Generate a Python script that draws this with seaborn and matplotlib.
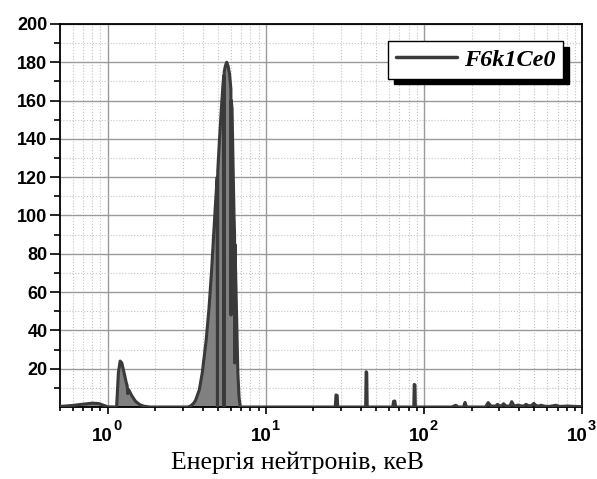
import numpy as np
import pandas as pd
import matplotlib
matplotlib.use('Agg')
import matplotlib.pyplot as plt
import seaborn as sns
from matplotlib.ticker import FixedLocator, NullFormatter

# spectrum pieces (energy in keV, flux)
low_e = [0.5, 0.6, 0.7, 0.8, 0.88, 0.95, 1.0, 1.14]
low_f = [0.3, 0.8, 1.5, 2.0, 1.8, 0.8, 0.1, 0.0]

peak1_e = [1.15, 1.17, 1.2, 1.23, 1.27, 1.31, 1.33, 1.34, 1.36, 1.42, 1.5, 1.6, 1.7, 1.85]
peak1_f = [6, 18, 24, 23, 18, 13, 11, 7, 9, 6, 3, 1.2, 0.4, 0.0]

peak2_e = [3.2, 3.35, 3.5, 3.6, 3.8, 3.97, 4.2, 4.38, 4.55, 4.66, 4.8, 4.93, 4.95, 4.97,
           5.1, 5.25, 5.35, 5.42, 5.44, 5.46, 5.55, 5.66, 5.78, 5.9, 6.02, 6.03, 6.05,
           6.12, 6.2, 6.3, 6.35, 6.36, 6.38, 6.45, 6.55, 6.66, 6.78, 6.9]
peak2_f = [0, 0.5, 2, 3.5, 9, 18, 35, 52, 72, 87, 105, 120, 0, 123,
           140, 157, 167, 173, 0, 175, 178, 180, 178, 174, 166, 48, 160,
           156, 130, 100, 90, 23, 85, 70, 45, 18, 5, 0]

spike_e = [27.5, 27.8, 28.3, 28.5, 42.8, 43.1, 43.5, 43.8, 63.5, 64.3, 65.5, 66.3,
           86.3, 86.8, 87.8, 88.3]
spike_f = [0, 6.3, 6.0, 0, 0, 18.4, 18.0, 0, 0, 3.0, 3.1, 0,
           0, 11.8, 11.5, 0]

tail_e = [150, 159, 165, 178, 182, 186, 245, 255, 265, 285, 292, 300, 312, 319, 330,
          350, 359, 370, 385, 392, 410, 430, 442, 460, 480, 495, 510, 530, 551, 580,
          620, 684, 720, 813, 900, 1000]
tail_f = [0, 0.9, 0, 0, 2.4, 0, 0, 2.3, 0.5, 0.5, 1.4, 0.5, 0.8, 1.7, 0.5,
          0.5, 2.8, 0.8, 0.5, 1.0, 0.6, 0.5, 1.4, 0.6, 0.8, 1.9, 0.8, 0.5, 0.9, 0.4,
          0.3, 0.9, 0.3, 0.5, 0.3, 0.2]

xtick_vals = [1, 10, 100, 1000]
xtick_exps = ['0', '1', '2', '3']

df = pd.DataFrame({
    'E': low_e + peak1_e + peak2_e + spike_e + tail_e,
    'F': low_f + peak1_f + peak2_f + spike_f + tail_f,
})

sns.set_theme(style='white')
plt.rcParams['font.family'] = ['Liberation Sans', 'DejaVu Sans']

fig = plt.figure(figsize=(5.97, 4.79), dpi=100)
ax = fig.add_axes([0.1005, 0.1503, 0.8745, 0.7997])

line_col = '#3a3a3a'
ax.fill_between(df['E'], df['F'], 0, color='#808080', lw=0, zorder=2)
sns.lineplot(data=df, x='E', y='F', sort=False, estimator=None, color=line_col,
             lw=2.2, ax=ax, label='F6k1Ce0', zorder=3)

ax.set_xscale('log')
ax.set_xlim(0.5, 1000)
ax.set_ylim(0, 200)

# x tick labels as "10" with a superscript exponent
ax.set_xticks(xtick_vals)
ax.set_xticklabels([''] * len(xtick_vals))
for v, e in zip(xtick_vals, xtick_exps):
    ax.annotate('10', xy=(v, 0), xycoords=('data', 'axes fraction'),
                xytext=(-3.5, -24.5), textcoords='offset points', ha='center',
                va='baseline', fontsize=13.5, fontweight='bold', color='black',
                annotation_clip=False)
    ax.annotate(e, xy=(v, 0), xycoords=('data', 'axes fraction'),
                xytext=(4, -16.5), textcoords='offset points', ha='left',
                va='baseline', fontsize=10.5, fontweight='bold', color='black',
                annotation_clip=False)

minors = [m * 10.0 ** d for d in range(-1, 3) for m in range(2, 10)]
ax.xaxis.set_minor_locator(FixedLocator([v for v in minors if 0.5 <= v <= 1000]))
ax.xaxis.set_minor_formatter(NullFormatter())

ax.set_yticks(range(20, 201, 20))
ax.yaxis.set_minor_locator(FixedLocator(range(10, 200, 20)))

for lab in ax.get_yticklabels():
    lab.set_fontweight('bold')
    lab.set_fontsize(13)
    lab.set_color('black')

ax.tick_params(axis='x', which='major', direction='out', length=5, width=1.2,
               bottom=True, top=False, pad=7, color='black')
ax.tick_params(axis='x', which='minor', direction='out', length=3, width=1.2,
               bottom=True, top=False, color='black')
ax.tick_params(axis='y', which='major', direction='out', length=7, width=1.2,
               left=True, right=False, pad=2, color='black')
ax.tick_params(axis='y', which='minor', direction='out', length=4, width=1.2,
               left=True, right=False, color='black')

ax.grid(True, which='major', color='#9a9a9a', lw=1.0, ls='-', zorder=0)
ax.grid(True, which='minor', color='#c4c4c4', lw=0.8, ls=':', zorder=0)
ax.set_axisbelow(True)
for sp in ax.spines.values():
    sp.set_color('black')
    sp.set_linewidth(1.3)

ax.set_xlabel('Енергія нейтронів, кеВ', family=['Liberation Serif', 'DejaVu Serif'],
              fontsize=18.5, labelpad=6, color='black')
ax.xaxis.set_label_coords(0.454, -0.115)
ax.set_ylabel('')

leg = ax.legend(loc='upper right', bbox_to_anchor=(0.9636, 0.9556), borderaxespad=0,
                frameon=True, fancybox=False, handlelength=2.5, borderpad=0.32,
                handletextpad=0.3,
                shadow={'ox': 4, 'oy': -4, 'facecolor': 'black', 'edgecolor': 'black',
                        'alpha': 1},
                prop={'family': 'Liberation Serif', 'weight': 'bold',
                      'style': 'italic', 'size': 17.5})
leg.get_frame().set_edgecolor('black')
leg.get_frame().set_linewidth(1.0)
for h in leg.get_lines():
    h.set_linewidth(2.5)
for t in leg.get_texts():
    t.set_color('black')

fig.savefig('out.png', dpi=100)
